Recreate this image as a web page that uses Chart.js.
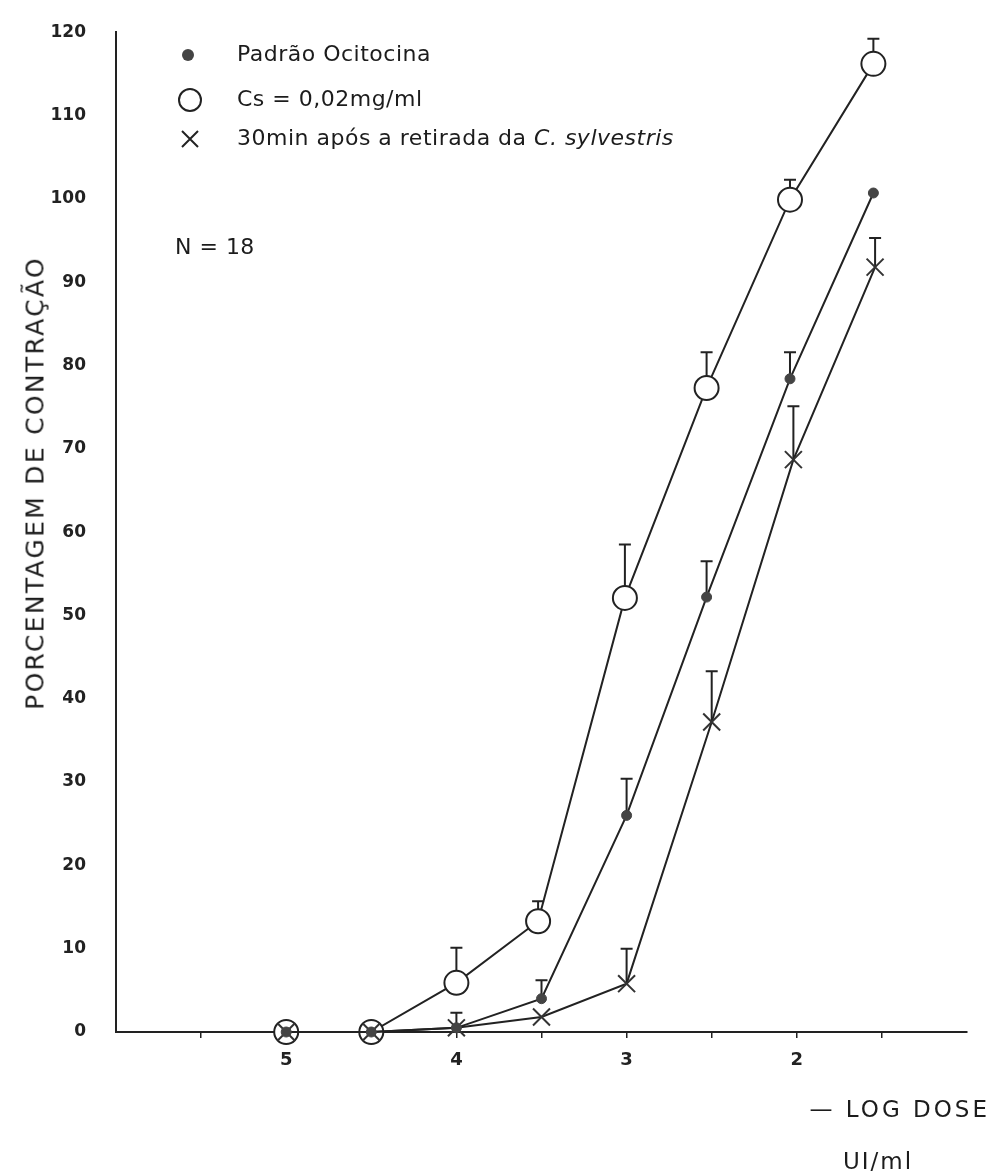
<!DOCTYPE html>
<html>
<head>
<meta charset="utf-8">
<script src="https://cdn.jsdelivr.net/npm/chart.js@4.4.0/dist/chart.umd.min.js"></script>
<style>
  html, body { margin: 0; padding: 0; background: #fff; }
  #wrap { position: relative; width: 993px; height: 1176px; }
  .t { position: absolute; font-family: 'DejaVu Sans', sans-serif; color: #1c1c1c; white-space: nowrap; line-height: 1; }
  .leg { font-size: 22px; letter-spacing: 0.5px; }
</style>
</head>
<body>
<div id="wrap">
  <canvas id="c" width="993" height="1176"></canvas>
  <div class="t leg" style="left:237px;top:43px">Padrão Ocitocina</div>
  <div class="t leg" style="left:237px;top:88px">Cs = 0,02mg/ml</div>
  <div class="t leg" style="left:237px;top:127px">30min após a retirada da <i>C. sylvestris</i></div>
  <div class="t leg" style="left:175px;top:236px">N = 18</div>
  <div class="t" style="left:35px;top:483px;font-size:25px;letter-spacing:2.3px;transform:translate(-50%,-50%) rotate(-90deg)">PORCENTAGEM DE CONTRAÇÃO</div>
  <div class="t" style="right:3px;top:1098px;font-size:23px;letter-spacing:3px">— LOG DOSE</div>
  <div class="t" style="left:843px;top:1150px;font-size:23px;letter-spacing:2px">UI/ml</div>
</div>
<script>
// - log dose (UI/ml) and % contraction
const doseOcit = [5, 4.5, 4, 3.5, 3, 2.53, 2.04, 1.55];
const ocitocina = [0, 0, 0.5, 4.0, 26.0, 52.2, 78.4, 100.7];
const errOcit = [0, 1.2, 1.8, 2.2, 4.4, 4.3, 3.2, 0];

const doseCs = [5, 4.5, 4, 3.52, 3.01, 2.53, 2.04, 1.55];
const cs002 = [0, 0, 5.9, 13.3, 52.1, 77.3, 99.9, 116.2];
const errCs = [0, 0, 4.2, 2.4, 6.4, 4.3, 2.4, 3.0];

const doseRet = [5, 4.5, 4, 3.5, 3, 2.5, 2.02, 1.54];
const retirada = [0, 0, 0.5, 1.8, 5.8, 37.2, 68.7, 91.8];
const errRet = [0, 0, 0, 0, 4.2, 6.1, 6.4, 3.5];

const xLabels = [5, 4, 3, 2];
const INK = '#222';

const pts = (xs, ys) => xs.map((x, i) => ({ x, y: ys[i] }));

const errPlugin = {
  id: 'err',
  beforeDatasetsDraw(ch) {
    const c = ch.ctx, xs = ch.scales.x, ys = ch.scales.y;
    const sets = [[doseOcit, ocitocina, errOcit], [doseCs, cs002, errCs], [doseRet, retirada, errRet]];
    c.save();
    c.strokeStyle = INK; c.lineWidth = 2;
    sets.forEach(([dx, dy, de]) => {
      dx.forEach((d, i) => {
        if (!de[i]) return;
        const px = xs.getPixelForValue(d);
        const y0 = ys.getPixelForValue(dy[i]);
        const y1 = ys.getPixelForValue(dy[i] + de[i]);
        c.beginPath();
        c.moveTo(px, y0); c.lineTo(px, y1);
        c.moveTo(px - 6, y1); c.lineTo(px + 6, y1);
        c.stroke();
      });
    });
    c.restore();
  },
  afterDraw(ch) {
    const c = ch.ctx;
    c.save();
    c.fillStyle = '#444';
    c.beginPath(); c.arc(188, 55, 6, 0, Math.PI * 2); c.fill();
    c.strokeStyle = INK; c.lineWidth = 2;
    c.beginPath(); c.arc(190, 100, 11, 0, Math.PI * 2); c.stroke();
    c.beginPath();
    c.moveTo(182, 131); c.lineTo(198, 147);
    c.moveTo(198, 131); c.lineTo(182, 147);
    c.stroke();
    c.restore();
  }
};

new Chart(document.getElementById('c'), {
  type: 'scatter',
  plugins: [errPlugin],
  data: {
    datasets: [
      {
        label: 'Padrão Ocitocina', data: pts(doseOcit, ocitocina), showLine: true, clip: false,
        borderColor: INK, borderWidth: 2, pointStyle: 'circle', pointRadius: 5,
        pointBackgroundColor: '#444', pointBorderColor: '#444', pointBorderWidth: 1, order: 1
      },
      {
        label: 'Cs = 0,02mg/ml', data: pts(doseCs, cs002), showLine: true, clip: false,
        borderColor: INK, borderWidth: 2, pointStyle: 'circle', pointRadius: 12,
        pointBackgroundColor: '#fff', pointBorderColor: INK, pointBorderWidth: 2, order: 3
      },
      {
        label: '30min após a retirada da C. sylvestris', data: pts(doseRet, retirada), showLine: true, clip: false,
        borderColor: INK, borderWidth: 2, pointStyle: 'crossRot', pointRadius: 12,
        pointBorderColor: '#333', pointBorderWidth: 2, order: 2
      }
    ]
  },
  options: {
    responsive: false,
    animation: false,
    layout: { padding: { top: 20, right: 26, left: 0, bottom: 0 } },
    scales: {
      x: {
        type: 'linear', reverse: true, min: 1, max: 6,
        afterFit: s => { s.height = 144; },
        ticks: {
          stepSize: 0.5, padding: 12, color: INK, autoSkip: false, maxRotation: 0,
          font: { family: 'DejaVu Sans', size: 18, weight: 'bold' },
          callback: v => xLabels.includes(v) ? String(v) : ''
        },
        grid: {
          drawOnChartArea: false, tickLength: 6, lineWidth: 1.5,
          color: ctx => (ctx.tick && (ctx.tick.value === 1 || ctx.tick.value === 6)) ? 'rgba(0,0,0,0)' : INK
        },
        border: { color: INK, width: 2 }
      },
      y: {
        min: 0, max: 120,
        afterFit: s => { s.width = 116; },
        ticks: { stepSize: 10, padding: 22, color: INK, font: { family: 'DejaVu Sans', size: 17, weight: 'bold' } },
        grid: { display: false },
        border: { color: INK, width: 2 }
      }
    },
    plugins: { legend: { display: false }, tooltip: { enabled: false } }
  }
});
</script>
</body>
</html>
